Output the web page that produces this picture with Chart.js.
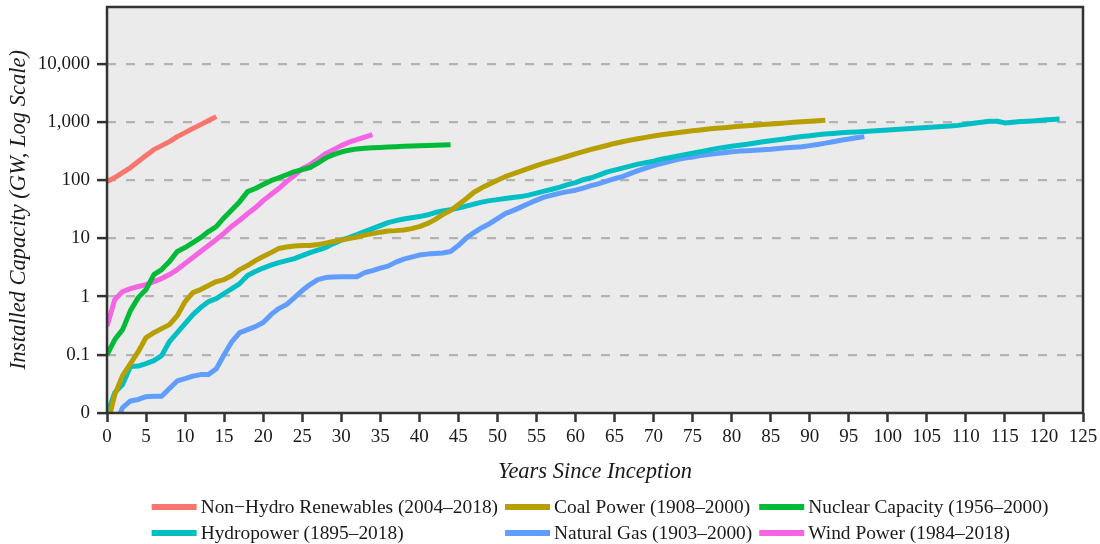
<!DOCTYPE html>
<html>
<head>
<meta charset="utf-8">
<script src="https://cdn.jsdelivr.net/npm/chart.js@4.4.1/dist/chart.umd.min.js"></script>
<style>
  html, body { margin: 0; padding: 0; background: #ffffff; }
  #wrap { width: 1100px; height: 544px; position: relative; }
</style>
</head>
<body>
<div id="wrap"><canvas id="c"></canvas></div>
<script>
// Installed capacity (GW) by year since each technology's first year
const seriesNames = [
  'Non\u2212Hydro Renewables (2004\u20132018)',
  'Coal Power (1908\u20132000)',
  'Nuclear Capacity (1956\u20132000)',
  'Hydropower (1895\u20132018)',
  'Natural Gas (1903\u20132000)',
  'Wind Power (1984\u20132018)'
];
const seriesColors = ['#F8766D', '#B79F00', '#00BA38', '#00BFC4', '#619CFF', '#F564E3'];

const nonHydro = [95, 111, 135, 165, 209, 265, 335, 393, 460, 561, 657, 771, 902, 1057, 1238];

const coal = [0.006, 0.0207, 0.044, 0.0707, 0.113, 0.198, 0.24, 0.282, 0.33, 0.47,
  0.82, 1.17, 1.32, 1.55, 1.81, 1.96, 2.3, 2.91, 3.41, 4.15,
  4.87, 5.7, 6.69, 7.1, 7.4, 7.53, 7.53, 7.83, 8.3, 8.84,
  9.35, 9.9, 10.5, 11.4, 12.1, 12.8, 13.4, 13.6, 13.9, 14.7,
  15.9, 17.9, 21, 25.7, 30, 38, 48, 62, 74, 86,
  100, 115, 128, 143, 160, 178, 196, 214, 234, 258,
  284, 310, 338, 365, 395, 428, 458, 488, 516, 545,
  575, 605, 630, 655, 680, 705, 730, 755, 778, 800,
  822, 843, 863, 883, 903, 925, 945, 966, 988, 1010,
  1032, 1054, 1076];

const nuclear = [0.1, 0.183, 0.271, 0.575, 0.96, 1.32, 2.39, 2.91, 3.99, 5.94,
  6.95, 8.44, 10.3, 13.1, 15.9, 22.7, 31.2, 42.8, 63.6, 71.9,
  84, 98, 110, 124, 140, 152, 165, 197, 240, 275,
  305, 328, 345, 355, 362, 366, 372, 377, 382, 386,
  390, 394, 398, 402, 406];

const hydro = [0.0095, 0.0225, 0.0308, 0.0627, 0.064, 0.0706, 0.0795, 0.0969, 0.169, 0.24,
  0.344, 0.49, 0.647, 0.82, 0.924, 1.13, 1.37, 1.67, 2.3, 2.69,
  3.09, 3.48, 3.83, 4.15, 4.5, 5.06, 5.7, 6.29, 6.95, 8.13,
  9.35, 10.3, 11.6, 13.1, 14.7, 16.6, 18.7, 20.2, 21.5, 22.7,
  23.7, 25.2, 27.8, 29.5, 31.2, 33.2, 35.9, 38.9, 42, 44.6,
  46.4, 48.3, 50.3, 52.3, 55.5, 59.9, 64.8, 70, 76, 84,
  91, 102, 110, 122, 138, 149, 161, 174, 189, 200,
  212, 230, 243, 259, 275, 292, 310, 328, 349, 365,
  382, 400, 416, 436, 459, 478, 497, 517, 542, 564,
  582, 605, 622, 637, 655, 668, 676, 687, 700, 714,
  728, 742, 757, 772, 787, 803, 819, 835, 851, 875,
  913, 951, 991, 1026, 1030, 965, 993, 1016, 1033, 1054,
  1080, 1100, 1122];

const naturalGas = [0.003, 0.006, 0.0124, 0.0161, 0.0171, 0.0191, 0.0194, 0.0194, 0.0264, 0.0355,
  0.0389, 0.043, 0.0457, 0.0457, 0.0578, 0.1, 0.169, 0.24, 0.271, 0.305,
  0.358, 0.49, 0.622, 0.729, 0.96, 1.27, 1.61, 1.96, 2.12, 2.18,
  2.2, 2.2, 2.2, 2.58, 2.8, 3.09, 3.34, 3.91, 4.41, 4.77,
  5.17, 5.37, 5.48, 5.63, 5.94, 7.53, 10.1, 12.6, 15.3, 17.9,
  21.9, 26.7, 30, 34.5, 39.7, 45.5, 51.3, 55.5, 60, 63.6,
  67.4, 73, 80.6, 87.4, 96, 106, 115, 130, 146, 161,
  178, 193, 209, 226, 240, 251, 265, 275, 286, 297,
  307, 316, 322, 328, 335, 341, 351, 362, 369, 377,
  393, 412, 433, 459, 487, 510, 538, 561];

const wind = [0.31, 0.89, 1.22, 1.37, 1.49, 1.61, 1.81, 2.04, 2.39, 2.91,
  3.69, 4.68, 5.94, 7.54, 9.57, 12.3, 16.2, 20.5, 26.5, 33.5,
  44.6, 56.7, 71.9, 94.5, 120, 158, 185, 229, 286, 335,
  393, 450, 497, 550, 607];

const yTickValues = [0.01, 0.1, 1, 10, 100, 1000, 10000];
const yTickLabels = ['0', '0.1', '1', '10', '100', '1,000', '10,000'];
const xMin = 0, xMax = 125, xStep = 5;
const yMin = 0.01, yMax = 94600;

const allSeries = [nonHydro, coal, nuclear, hydro, naturalGas, wind];

const FONT = "'Liberation Serif', 'Times New Roman', serif";
const INK = '#1a1a1a';
const FRAME = '#333333';

const datasets = allSeries.map((vals, i) => ({
  label: seriesNames[i],
  data: vals.map((v, year) => ({ x: year, y: v })),
  borderColor: seriesColors[i],
  backgroundColor: seriesColors[i],
  borderWidth: 5,
  pointRadius: 0,
  tension: 0,
  fill: false,
  clip: 0,
  borderJoinStyle: 'round',
  borderCapStyle: 'butt'
}));

// grey panel behind the plot
const panelBackground = {
  id: 'panelBackground',
  beforeDraw(chart) {
    const { ctx, chartArea: a } = chart;
    ctx.save();
    ctx.fillStyle = '#EBEBEB';
    ctx.fillRect(a.left, a.top, a.right - a.left, a.bottom - a.top);
    ctx.restore();
  }
};

// dark frame around the plot
const panelFrame = {
  id: 'panelFrame',
  afterDatasetsDraw(chart) {
    const { ctx, chartArea: a } = chart;
    ctx.save();
    ctx.strokeStyle = FRAME;
    ctx.lineWidth = 2.5;
    ctx.strokeRect(a.left, a.top, a.right - a.left, a.bottom - a.top);
    ctx.restore();
  }
};

// two-row legend with aligned columns under the axis title
const gridLegend = {
  id: 'gridLegend',
  afterDraw(chart) {
    const { ctx, chartArea: a } = chart;
    const cols = 3, rows = 2;
    const keyW = 45, keyH = 6, keyGap = 4, colGap = 7;
    const rowY = [507, 533];
    ctx.save();
    ctx.font = '19.4px ' + FONT;
    ctx.textBaseline = 'middle';
    ctx.textAlign = 'left';
    const colW = [];
    for (let c = 0; c < cols; c++) {
      let w = 0;
      for (let r = 0; r < rows; r++) {
        const idx = r * cols + c;
        if (idx < seriesNames.length) w = Math.max(w, ctx.measureText(seriesNames[idx]).width);
      }
      colW.push(keyW + keyGap + w);
    }
    const total = colW.reduce((s, w) => s + w, 0) + colGap * (cols - 1);
    let x0 = (a.left + a.right) / 2 + 5 - total / 2;
    for (let c = 0; c < cols; c++) {
      for (let r = 0; r < rows; r++) {
        const idx = r * cols + c;
        if (idx >= seriesNames.length) continue;
        const y = rowY[r];
        ctx.fillStyle = seriesColors[idx];
        ctx.fillRect(x0, y - keyH / 2, keyW, keyH);
        ctx.fillStyle = INK;
        ctx.fillText(seriesNames[idx], x0 + keyW + keyGap, y + 1);
      }
      x0 += colW[c] + colGap;
    }
    ctx.restore();
  }
};

new Chart(document.getElementById('c'), {
  type: 'line',
  data: { datasets },
  plugins: [panelBackground, panelFrame, gridLegend],
  options: {
    responsive: true,
    maintainAspectRatio: false,
    animation: false,
    devicePixelRatio: 1,
    layout: { padding: { left: 0, right: 17, top: 7, bottom: 56 } },
    plugins: {
      legend: { display: false },
      tooltip: { enabled: false },
      title: { display: false }
    },
    scales: {
      x: {
        type: 'linear',
        min: xMin,
        max: xMax,
        afterFit(scale) { scale.height = 75; scale.paddingLeft = 0; scale.paddingRight = 0; },
        ticks: {
          stepSize: xStep,
          autoSkip: false,
          maxRotation: 0,
          padding: 4,
          color: INK,
          font: { family: FONT, size: 19 },
          callback: (v) => String(v)
        },
        grid: {
          drawOnChartArea: false,
          drawTicks: true,
          tickLength: 9,
          tickWidth: 2.5,
          tickColor: FRAME
        },
        border: { display: false },
        title: {
          display: true,
          text: 'Years Since Inception',
          color: INK,
          font: { family: FONT, size: 22.5, style: 'italic' },
          padding: { top: 0, bottom: 2.5 }
        }
      },
      y: {
        type: 'logarithmic',
        min: yMin,
        max: yMax,
        afterFit(scale) { scale.width = 107; scale.paddingTop = 0; scale.paddingBottom = 0; },
        afterBuildTicks(scale) {
          scale.ticks = yTickValues.map(v => ({ value: v }));
        },
        ticks: {
          padding: 7,
          color: INK,
          font: { family: FONT, size: 19 },
          callback: (v) => {
            const i = yTickValues.findIndex(t => Math.abs(t - v) / t < 1e-6);
            return i >= 0 ? yTickLabels[i] : '';
          }
        },
        grid: {
          drawOnChartArea: true,
          color: (ctx) => (ctx.tick && ctx.tick.value <= yMin * 1.0001) ? 'rgba(0,0,0,0)' : '#B3B3B3',
          lineWidth: 2.2,
          drawTicks: true,
          tickLength: 10,
          tickWidth: 2.5,
          tickColor: FRAME
        },
        border: { display: false, dash: [9, 10] },
        title: {
          display: true,
          text: 'Installed Capacity (GW, Log Scale)',
          color: INK,
          font: { family: FONT, size: 22.5, style: 'italic' },
          padding: { top: 6, bottom: 0 }
        }
      }
    }
  }
});
</script>
</body>
</html>
